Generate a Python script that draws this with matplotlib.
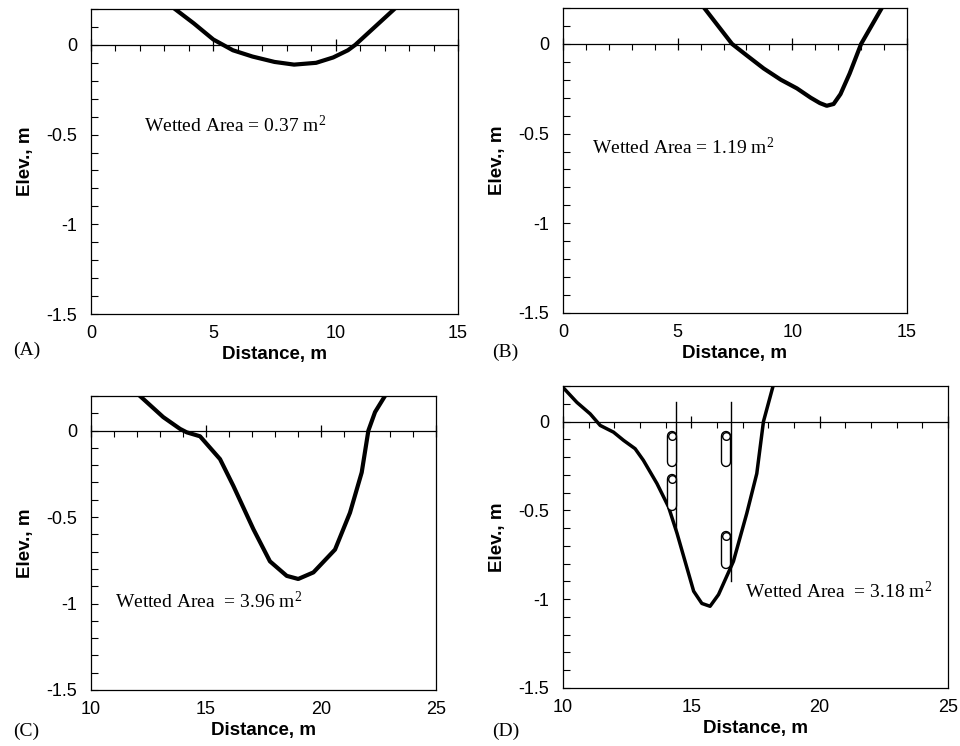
import numpy as np
import matplotlib
matplotlib.use("Agg")
import matplotlib.pyplot as plt
from matplotlib.ticker import MultipleLocator

plt.rcParams["mathtext.fontset"] = "custom"
plt.rcParams["mathtext.rm"] = "Liberation Serif"
plt.rcParams["mathtext.it"] = "Liberation Serif:italic"

# channel cross sections
a_dist = [3.43, 4.2, 5.0, 5.4, 5.8, 6.6, 7.5, 8.3, 9.2, 9.9, 10.5, 10.8, 11.6, 12.4]
a_elev = [0.2, 0.12, 0.03, 0.0, -0.03, -0.065, -0.095, -0.11, -0.1, -0.07, -0.03, 0.0, 0.1, 0.2]

b_dist = [6.16, 7.37, 8.0, 8.75, 9.5, 10.2, 10.8, 11.2, 11.5, 11.8, 12.1, 12.5, 13.0, 13.9]
b_elev = [0.2, 0.0, -0.063, -0.137, -0.2, -0.248, -0.3, -0.33, -0.345, -0.335, -0.28, -0.165, 0.0, 0.2]

c_dist = [12.13, 13.14, 13.87, 14.16, 14.74, 15.61, 16.19, 17.06, 17.78, 18.51, 19.01,
          19.67, 20.61, 21.26, 21.77, 22.06, 22.35, 22.78]
c_elev = [0.2, 0.078, 0.01, -0.01, -0.033, -0.165, -0.32, -0.57, -0.756, -0.84, -0.858,
          -0.82, -0.688, -0.475, -0.242, 0.0, 0.107, 0.2]

d_dist = [10.0, 10.54, 11.06, 11.45, 11.97, 12.36, 12.81, 13.13, 13.66, 14.11, 14.44,
          15.09, 15.41, 15.73, 16.06, 16.64, 17.16, 17.55, 17.81, 18.17]
d_elev = [0.192, 0.108, 0.043, -0.022, -0.06, -0.106, -0.153, -0.218, -0.349, -0.48, -0.628,
          -0.955, -1.024, -1.04, -0.974, -0.787, -0.517, -0.293, 0.0, 0.192]

# poles and sensors in panel D
pole_x = [14.40, 16.54]
pole_top = [0.108, 0.108]
pole_bottom = [-0.62, -0.90]
sensor_x = [14.24, 14.24, 16.36, 16.36]
sensor_top = [-0.084, -0.325, -0.084, -0.647]
sensor_bottom = [-0.228, -0.476, -0.228, -0.802]

areas = ["Wetted Area = 0.37 m$^{\\mathrm{2}}$", "Wetted Area = 1.19 m$^{\\mathrm{2}}$",
         "Wetted Area  = 3.96 m$^{\\mathrm{2}}$", "Wetted Area  = 3.18 m$^{\\mathrm{2}}$"]
letters = ["(A)", "(B)", "(C)", "(D)"]

W, H = 960, 746
fig = plt.figure(figsize=(W / 100, H / 100), dpi=100)


def px_rect(l, r, t, b):
    return [l / W, 1 - b / H, (r - l) / W, (b - t) / H]


def panel(rect, xs, ys, xlim, lw, txt, txy):
    ax = fig.add_axes(rect)
    ax.plot(xs, ys, color="black", lw=lw, solid_joinstyle="round", zorder=3)
    ax.set_xlim(*xlim)
    ax.set_ylim(-1.5, 0.2)
    ax.set_xticks(np.arange(xlim[0], xlim[1] + 1, 5))
    ax.set_xticklabels([str(int(v)) for v in np.arange(xlim[0], xlim[1] + 1, 5)])
    ax.tick_params(axis="x", length=0, labelsize=13, pad=8,
                   labelfontfamily="Liberation Sans")
    ax.set_yticks([0, -0.5, -1, -1.5])
    ax.set_yticklabels(["0", "-0.5", "-1", "-1.5"])
    ax.yaxis.set_minor_locator(MultipleLocator(0.1))
    ax.tick_params(axis="y", which="both", direction="in", length=5, width=0.8,
                   labelsize=13, pad=10, labelfontfamily="Liberation Sans")
    for s in ax.spines.values():
        s.set_linewidth(0.9)
    ax.set_xlabel("Distance, m", fontsize=13.5, fontweight="bold",
                  family="Liberation Sans", labelpad=3)
    ax.set_ylabel("Elev., m", fontsize=13.5, fontweight="bold",
                  family="Liberation Sans", labelpad=9)

    # zero line with ticks, like the spreadsheet axis crossing at 0
    sec = ax.secondary_xaxis(1.5 / 1.7)
    sec.set_xticks(np.arange(xlim[0], xlim[1] + 1, 5))
    sec.xaxis.set_minor_locator(MultipleLocator(1))
    sec.tick_params(which="major", direction="inout", length=9, width=0.9,
                    labeltop=False, labelbottom=False)
    sec.tick_params(which="minor", direction="in", length=4, width=0.8)
    sec.spines["top"].set_linewidth(0.9)
    sec.spines["bottom"].set_linewidth(0.9)

    ax.text(txy[0], txy[1], txt, fontsize=14, family="Liberation Serif",
            va="center", ha="left")
    return ax


axA = panel(px_rect(91, 458, 9, 314), a_dist, a_elev, (0, 15), 3.0, areas[0], (2.18, -0.45))
axB = panel(px_rect(563, 907, 8, 313), b_dist, b_elev, (0, 15), 3.0, areas[1], (1.26, -0.58))
axC = panel(px_rect(91, 436, 396, 690), c_dist, c_elev, (10, 25), 3.0, areas[2], (11.04, -0.99))
axD = panel(px_rect(563, 948, 386, 688), d_dist, d_elev, (10, 25), 2.5, areas[3], (17.1, -0.955))

for x, t, b in zip(pole_x, pole_top, pole_bottom):
    axD.plot([x, x], [t, b], color="black", lw=1.0, zorder=2)
for x, t, b in zip(sensor_x, sensor_top, sensor_bottom):
    axD.plot([x, x], [t, b], color="black", lw=7.5, solid_capstyle="round", zorder=4)
    axD.plot([x, x], [t, b], color="white", lw=5.5, solid_capstyle="round", zorder=5)
    axD.plot([x], [t], "o", ms=5.5, mfc="white", mec="black", mew=1.0, zorder=6)

for lab, (px, py) in zip(letters, [(13, 350), (492, 352), (13, 731), (492, 731)]):
    fig.text(px / W, 1 - py / H, lab, fontsize=14, family="Liberation Serif",
             va="center", ha="left")

fig.savefig("out.png", dpi=100)
